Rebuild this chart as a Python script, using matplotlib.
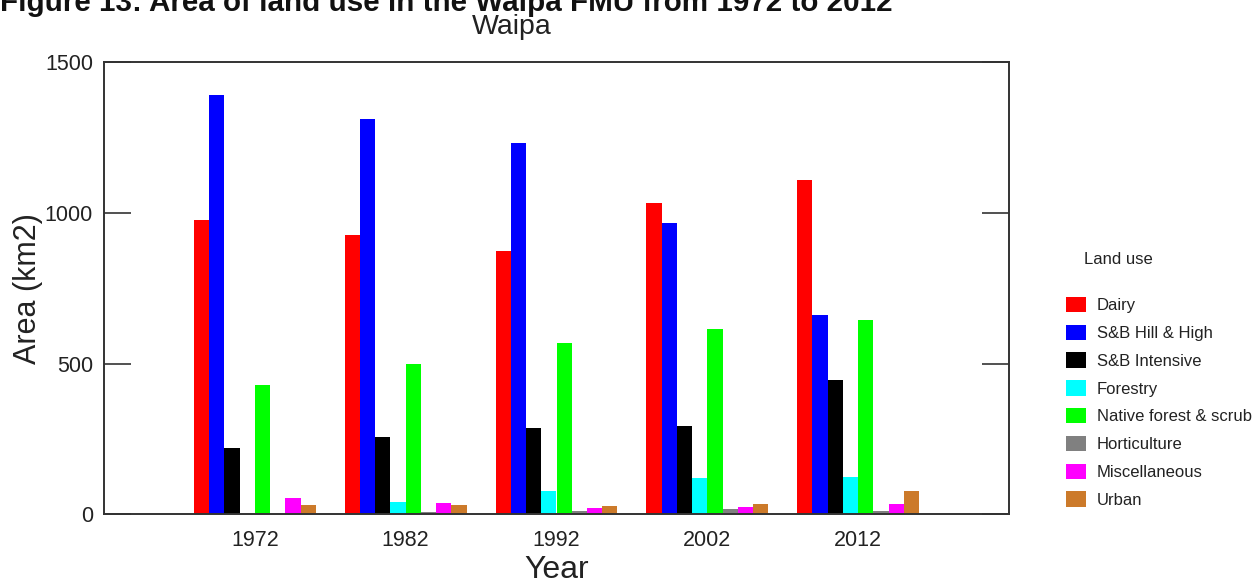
import matplotlib
matplotlib.use("Agg")
import matplotlib.pyplot as plt
import numpy as np

years = ["1972", "1982", "1992", "2002", "2012"]
categories = ["Dairy", "S&B Hill & High", "S&B Intensive", "Forestry",
              "Native forest & scrub", "Horticulture", "Miscellaneous", "Urban"]
dairy = [976, 926, 875, 1032, 1108]
sb_hill_high = [1391, 1313, 1231, 966, 660]
sb_intensive = [221, 258, 287, 292, 446]
forestry = [2, 42, 78, 120, 125]
native_forest = [429, 498, 567, 614, 644]
horticulture = [1, 7, 12, 16, 12]
miscellaneous = [53, 37, 22, 23, 33]
urban = [32, 32, 27, 33, 78]
series = [dairy, sb_hill_high, sb_intensive, forestry, native_forest,
          horticulture, miscellaneous, urban]
colors = ["#FF0000", "#0000FF", "#000000", "#00FFFF", "#00FF00",
          "#808080", "#FF00FF", "#CC7A2A"]
yticks = [0, 500, 1000, 1500]

plt.rcParams['font.family'] = ['Liberation Sans', 'DejaVu Sans']

W, H = 1256, 578
fig = plt.figure(figsize=(W / 100, H / 100), dpi=100)
ax = fig.add_axes([104 / W, 1 - 514.3 / H, (1009 - 104) / W, (514.3 - 62.3) / H])

x = np.arange(1, len(years) + 1)
bw = 0.101
handles = []
for i, (vals, c, lab) in enumerate(zip(series, colors, categories)):
    b = ax.bar(x + (i - 3.5) * bw, vals, width=bw, color=c, label=lab,
               linewidth=0)
    handles.append(b)

ax.set_xlim(0, len(years) + 1)
ax.set_ylim(0, 1500)
ax.set_xticks(x)
ax.set_xticklabels(years)
ax.set_yticks(yticks)
ax.set_yticklabels([str(v) for v in yticks])
ax.tick_params(axis='x', length=0, pad=11, labelsize=15.5, colors='#222222')
ax.tick_params(axis='y', direction='in', length=19.5, width=1.2,
               color='#333333', pad=8, labelsize=15.5, labelcolor='#222222',
               left=True, right=True)
for s in ax.spines.values():
    s.set_color('#333333')
    s.set_linewidth(1.4)

ax.set_ylabel("Area (km2)", fontsize=22, color='#222222', labelpad=1)
ax.set_xlabel("Year", fontsize=23, color='#222222', labelpad=3)

fig.text(0.0, 1 - 11 / H, "Figure 13: Area of land use in the Waipa FMU from 1972 to 2012",
         fontsize=21.3, fontweight='bold', ha='left', va='baseline', color='#111111')
fig.text(512 / W, 1 - 27 / H, "Waipa", fontsize=20.5, ha='center', va='center',
         color='#222222')

fig.text(1084 / W, 1 - 260 / H, "Land use", fontsize=12, ha='left',
         va='center', color='#222222')
leg = fig.legend(handles=handles, labels=categories, loc='upper left',
                 bbox_to_anchor=(1066 / W, 1 - 297 / H), frameon=False,
                 fontsize=12, handlelength=1.2, handleheight=1.05,
                 handletextpad=0.66, labelspacing=0.68, borderpad=0,
                 borderaxespad=0)
for t in leg.get_texts():
    t.set_color('#222222')

fig.savefig("out.png", dpi=100)
